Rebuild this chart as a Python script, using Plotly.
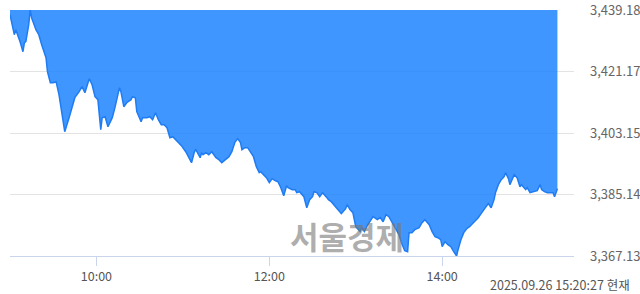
import plotly.graph_objects as go
import pandas as pd

# minutes after 09:00 and index values
minutes = [0, 3, 4, 6, 7, 9, 10, 11, 13, 14, 15, 18, 20, 22, 25, 26, 28, 30, 32, 34,
           36, 38, 41, 43, 45, 48, 50, 52, 54, 55, 57, 59, 61, 63, 64, 66, 68, 71, 73, 75,
           76, 77, 79, 81, 82, 84, 85, 87, 88, 91, 92, 95, 97, 99, 101, 103, 105, 107, 109, 111,
           113, 115, 117, 119, 122, 124, 126, 128, 129, 132, 133, 134, 136, 138, 140, 143, 145, 147, 150, 152,
           154, 156, 158, 160, 161, 163, 165, 167, 169, 171, 173, 174, 176, 178, 180, 182, 184, 186, 188, 190,
           192, 193, 196, 198, 199, 201, 204, 206, 208, 210, 211, 213, 215, 217, 220, 221, 223, 226, 228, 230,
           233, 234, 236, 238, 240, 243, 244, 246, 248, 250, 252, 255, 257, 259, 261, 263, 265, 267, 270, 272,
           274, 276, 277, 279, 281, 284, 286, 288, 289, 291, 293, 295, 297, 299, 300, 302, 304, 306, 308, 310,
           311, 313, 315, 317, 319, 323, 325, 328, 330, 332, 334, 336, 337, 339, 341, 343, 344, 346, 347, 349,
           350, 352, 354, 355, 358, 359, 361, 363, 366, 368, 369, 371, 373, 375, 377, 378, 380]
values = [3437.80, 3431.95, 3433.41, 3431.36, 3429.90, 3426.97, 3429.60, 3429.90, 3434.88, 3439.18,
          3436.93, 3433.41, 3431.95, 3429.02, 3425.21, 3421.11, 3417.89, 3417.89, 3418.18, 3414.38,
          3409.40, 3403.54, 3407.64, 3410.57, 3413.50, 3415.25, 3416.72, 3414.96, 3417.30, 3419.06,
          3417.30, 3413.79, 3412.91, 3404.13, 3407.64, 3407.93, 3405.00, 3407.64, 3410.86, 3415.25,
          3416.43, 3415.25, 3410.86, 3412.03, 3412.33, 3412.91, 3413.79, 3413.50, 3409.40, 3406.47,
          3407.64, 3407.64, 3407.93, 3407.05, 3409.10, 3407.05, 3405.59, 3405.59, 3404.71, 3401.78,
          3402.08, 3401.20, 3400.61, 3399.44, 3397.68, 3395.93, 3394.46, 3397.68, 3398.27, 3395.93,
          3397.39, 3396.80, 3397.39, 3396.80, 3397.68, 3395.93, 3395.34, 3394.46, 3395.63, 3396.22,
          3397.68, 3400.32, 3401.49, 3400.32, 3398.27, 3398.85, 3398.85, 3397.39, 3396.22, 3393.29,
          3391.53, 3391.83, 3390.95, 3390.07, 3388.60, 3389.78, 3389.19, 3388.90, 3387.14, 3384.80,
          3387.73, 3387.14, 3386.56, 3386.56, 3385.68, 3385.97, 3384.50, 3381.28, 3383.63, 3384.50,
          3385.97, 3385.68, 3384.50, 3385.68, 3384.21, 3383.63, 3383.04, 3381.58, 3380.70, 3379.53,
          3380.99, 3382.16, 3380.70, 3379.82, 3375.72, 3374.26, 3375.43, 3374.26, 3376.01, 3377.18,
          3378.65, 3377.77, 3378.36, 3377.18, 3379.23, 3378.65, 3377.18, 3375.72, 3373.38, 3370.74,
          3368.69, 3368.40, 3373.96, 3373.96, 3374.84, 3375.43, 3376.89, 3377.77, 3377.18, 3376.31,
          3374.26, 3372.79, 3372.50, 3371.91, 3369.86, 3371.33, 3370.45, 3369.86, 3368.40, 3367.13,
          3368.98, 3371.91, 3373.96, 3375.13, 3375.72, 3377.48, 3378.36, 3380.11, 3381.28, 3382.46,
          3381.28, 3383.63, 3385.68, 3388.02, 3389.48, 3390.36, 3391.53, 3389.78, 3388.02, 3389.78,
          3390.95, 3390.07, 3387.43, 3388.02, 3386.56, 3387.14, 3385.68, 3385.97, 3386.26, 3388.02,
          3386.56, 3385.97, 3385.68, 3385.68, 3385.68, 3384.50, 3386.85]

y_ticks = [3439.18, 3421.17, 3403.15, 3385.14, 3367.13]
x_tick_labels = ["10:00", "12:00", "14:00"]
day = "2025-09-26"
stamp_text = "2025.09.26 15:20:27 현재"
watermark = "서울경제"

base = pd.Timestamp(day + " 09:00")
times = [base + pd.Timedelta(minutes=m) for m in minutes]
top = max(y_ticks)

fig = go.Figure()
fig.add_trace(go.Scatter(x=times, y=[top] * len(times), mode="lines",
                         line=dict(width=0, color="rgba(0,0,0,0)"), hoverinfo="skip",
                         showlegend=False))
fig.add_trace(go.Scatter(x=times, y=values, mode="lines", fill="tonexty",
                         fillcolor="rgba(30,132,255,0.85)",
                         line=dict(color="#1f7cf2", width=1.5), hoverinfo="skip",
                         showlegend=False))

fig.update_layout(
    width=640, height=294,
    margin=dict(l=10, r=66, t=10, b=38, autoexpand=False),
    paper_bgcolor="white", plot_bgcolor="white",
    font=dict(family="Noto Sans CJK KR, DejaVu Sans, sans-serif", size=12, color="#666"),
    showlegend=False,
)
fig.update_xaxes(
    type="date",
    range=[base, base + pd.Timedelta(minutes=391.5)],
    tickvals=[pd.Timestamp(day + " " + t) for t in x_tick_labels],
    ticktext=x_tick_labels,
    ticks="outside", ticklen=9, tickcolor="#c8d5eb", tickwidth=1,
    showline=True, linecolor="#c8d5eb", linewidth=1,
    showgrid=False, zeroline=False, fixedrange=True, automargin=False,
    ticklabeloverflow="allow",
    tickfont=dict(size=12.5, color="#555"),
)
fig.update_yaxes(
    range=[min(y_ticks), max(y_ticks)],
    side="right",
    tickvals=y_ticks,
    ticktext=[f"{v:,.2f}" for v in y_ticks],
    showgrid=True, gridcolor="#e3e3e3", gridwidth=1,
    zeroline=False, showline=False, ticks="",
    ticklabelstandoff=15, automargin=False,
    ticklabeloverflow="allow",
    tickfont=dict(size=13, color="#666"),
    fixedrange=True,
)
fig.add_annotation(text=watermark, xref="paper", yref="paper", x=0.598, y=0.085,
                   xanchor="center", yanchor="middle", showarrow=False,
                   font=dict(size=31, color="rgba(120,120,120,0.6)", weight="bold",
                             family="Noto Sans CJK KR, sans-serif"))
fig.add_annotation(text=stamp_text, xref="paper", yref="paper", x=1.103, y=-0.117,
                   xanchor="right", yanchor="middle", showarrow=False,
                   font=dict(size=12.5, color="#555"))

fig.write_html("out.html")
